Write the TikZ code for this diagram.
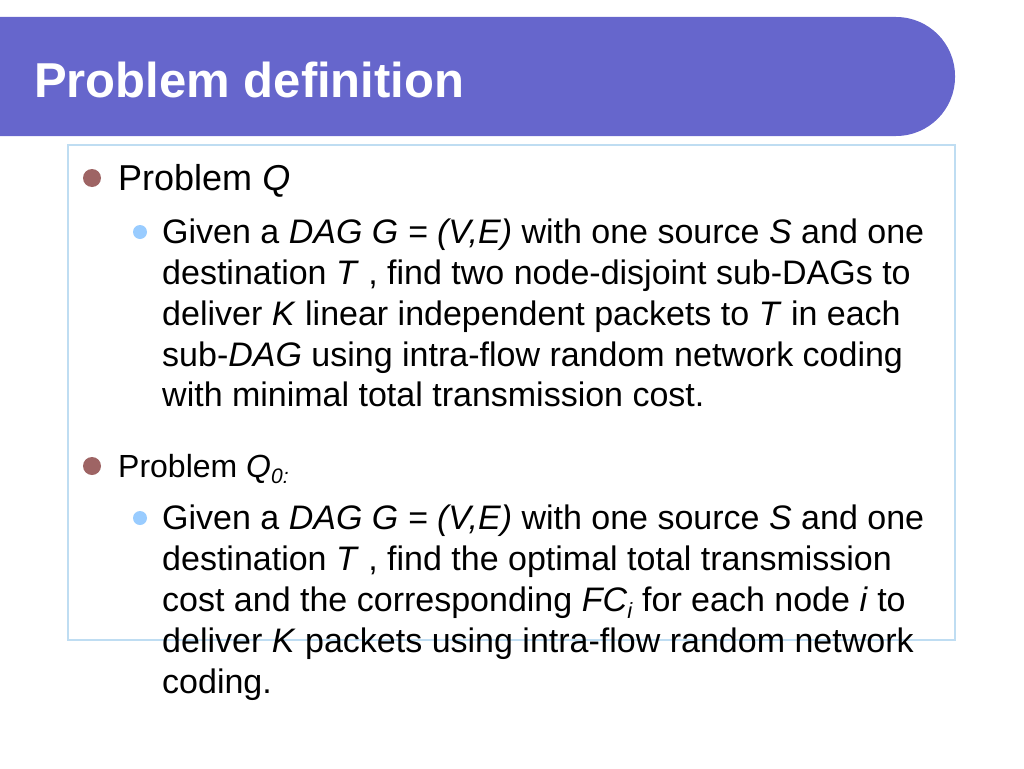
\documentclass[tikz,border=0pt]{standalone}
\usepackage{fontspec}
\setmainfont{Liberation Sans}
\definecolor{titlebar}{HTML}{6666CC}
\definecolor{boxline}{HTML}{BFDDF2}
\definecolor{bulletone}{HTML}{9E6464}
\definecolor{bullettwo}{HTML}{99CCFF}
\tikzset{
  line/.style={anchor=base west, inner sep=0pt, font=\fontsize{34}{40}\selectfont},
  head/.style={anchor=base west, inner sep=0pt},
}
\begin{document}
\begin{tikzpicture}[x=1pt,y=-1pt]
\useasboundingbox (0,0) rectangle (1024,768);
% title bar
\fill[titlebar] (0,17) [rounded corners=59] -- (955,17) -- (955,136) [sharp corners] -- (0,136) -- cycle;
\node[head, text=white, font=\fontsize{49}{55}\selectfont\bfseries] (title) at (34,97) {Problem definition};
% content box
\draw[boxline, line width=1.2pt] (68,145) rectangle (955,640);
% bullets
\fill[bulletone] (92,178) circle (9);
\fill[bulletone] (92,466) circle (9);
\fill[bullettwo] (140,232) circle (7);
\fill[bullettwo] (140,518) circle (7);
% first item
\node[head, font=\fontsize{36}{42}\selectfont] (pq) at (118,190) {Problem \textit{Q}};
\node[line] (a1) at (162,243) {Given a \textit{DAG G = (V,E)} with one source \textit{S} and one};
\node[line] (a2) at (162,284) {destination \textit{T} , find two node-disjoint sub-DAGs to};
\node[line] (a3) at (162,325) {deliver \textit{K} linear independent packets to \textit{T} in each};
\node[line] (a4) at (162,366) {sub-\textit{DAG} using intra-flow random network coding};
\node[line] (a5) at (162,406) {with minimal total transmission cost.};
% second item
\node[head, font=\fontsize{32}{38}\selectfont] (pq0) at (118,477) {Problem \textit{Q}$_{\textit{\fontsize{21}{24}\selectfont 0:}}$};
\node[line] (b1) at (162,529) {Given a \textit{DAG G = (V,E)} with one source \textit{S} and one};
\node[line] (b2) at (162,570) {destination \textit{T} , find the optimal total transmission};
\node[line] (b3) at (162,611) {cost and the corresponding \textit{FC}$_{\textit{\fontsize{22}{24}\selectfont i}}$ for each node \textit{i} to};
\node[line] (b4) at (162,652) {deliver \textit{K} packets using intra-flow random network};
\node[line] (b5) at (162,693) {coding.};
\end{tikzpicture}
\end{document}
